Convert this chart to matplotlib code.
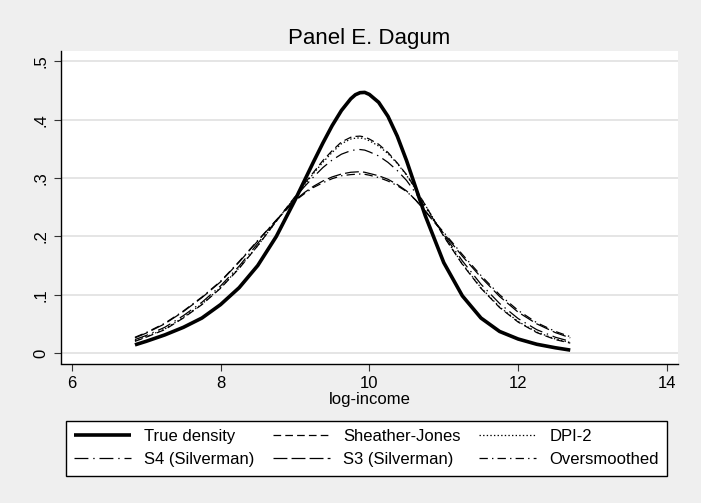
import matplotlib
matplotlib.use("Agg")
import matplotlib.pyplot as plt

plt.rcParams["font.family"] = ["Liberation Sans", "DejaVu Sans"]
plt.rcParams["lines.scale_dashes"] = False

# log-income grid shared by every density curve
log_income = [6.85, 7.0, 7.25, 7.5, 7.75, 8.0, 8.25, 8.5, 8.75, 9.0, 9.125, 9.25,
              9.375, 9.5, 9.625, 9.75, 9.8125, 9.875, 9.9375, 10.0, 10.125, 10.25,
              10.375, 10.5, 10.625, 10.75, 11.0, 11.25, 11.5, 11.75, 12.0, 12.25,
              12.5, 12.7]

true_density = [0.014, 0.020, 0.031, 0.044, 0.060, 0.083, 0.112, 0.150, 0.200,
                0.262, 0.295, 0.328, 0.360, 0.390, 0.416, 0.436, 0.443, 0.4465,
                0.447, 0.4435, 0.430, 0.406, 0.372, 0.330, 0.283, 0.236, 0.155,
                0.098, 0.060, 0.037, 0.024, 0.015, 0.009, 0.005]

sheather_jones = [0.020, 0.027, 0.040, 0.060, 0.083, 0.111, 0.145, 0.184, 0.226,
                  0.268, 0.290, 0.310, 0.330, 0.347, 0.362, 0.370, 0.3715, 0.372,
                  0.3705, 0.367, 0.358, 0.344, 0.326, 0.306, 0.281, 0.254, 0.200,
                  0.152, 0.111, 0.078, 0.053, 0.035, 0.023, 0.017]

dpi_2 = [0.021, 0.028, 0.041, 0.061, 0.084, 0.112, 0.146, 0.184, 0.226,
         0.267, 0.288, 0.308, 0.327, 0.344, 0.359, 0.367, 0.3685, 0.369,
         0.3675, 0.364, 0.355, 0.342, 0.325, 0.305, 0.280, 0.254, 0.201,
         0.153, 0.112, 0.079, 0.054, 0.036, 0.024, 0.018]

s4_silverman = [0.023, 0.030, 0.044, 0.064, 0.087, 0.115, 0.149, 0.188, 0.227,
                0.266, 0.285, 0.302, 0.318, 0.331, 0.341, 0.347, 0.3485, 0.349,
                0.348, 0.345, 0.338, 0.327, 0.313, 0.296, 0.274, 0.250, 0.203,
                0.158, 0.118, 0.085, 0.059, 0.040, 0.027, 0.020]

s3_silverman = [0.026, 0.034, 0.050, 0.071, 0.095, 0.122, 0.156, 0.192, 0.228,
                0.262, 0.275, 0.286, 0.295, 0.302, 0.307, 0.310, 0.3105, 0.311,
                0.310, 0.308, 0.304, 0.298, 0.289, 0.278, 0.262, 0.243, 0.205,
                0.166, 0.130, 0.097, 0.070, 0.050, 0.035, 0.026]

oversmoothed = [0.027, 0.035, 0.051, 0.072, 0.096, 0.123, 0.157, 0.193, 0.228,
                0.261, 0.273, 0.284, 0.292, 0.299, 0.304, 0.306, 0.3065, 0.307,
                0.3065, 0.305, 0.301, 0.295, 0.287, 0.277, 0.262, 0.244, 0.207,
                0.169, 0.133, 0.100, 0.073, 0.052, 0.037, 0.028]

x_ticks = [6, 8, 10, 12, 14]
y_ticks = [0, 0.1, 0.2, 0.3, 0.4, 0.5]
y_tick_labels = ["0", ".1", ".2", ".3", ".4", ".5"]

bg = "#EFEFEF"
fig = plt.figure(figsize=(7.01, 5.03), dpi=100, facecolor=bg)
W, H = 701, 503
left, right, top, bottom = 60.7, 678, 51, 363.5
ax = fig.add_axes([left / W, (H - bottom) / H, (right - left) / W, (bottom - top) / H])
ax.set_facecolor("white")

ax.set_xlim(5.852, 14.148)
ax.set_ylim(-0.018, 0.518)

for yv in y_ticks:
    ax.axhline(yv, color="#E3E3E3", lw=1.3, zorder=0)

thin = 0.9
ax.plot(log_income, true_density, color="black", lw=2.6, solid_capstyle="butt",
        solid_joinstyle="round", label="True density")
ax.plot(log_income, sheather_jones, color="black", lw=thin, dashes=(5.5, 3.0),
        label="Sheather-Jones")
ax.plot(log_income, dpi_2, color="black", lw=thin, dashes=(1.0, 1.6),
        label="DPI-2")
ax.plot(log_income, s4_silverman, color="black", lw=thin, dashes=(10, 3.5, 1, 3.5),
        label="S4 (Silverman)")
ax.plot(log_income, s3_silverman, color="black", lw=thin, dashes=(10, 3),
        label="S3 (Silverman)")
ax.plot(log_income, oversmoothed, color="black", lw=thin, dashes=(6, 3, 1, 3),
        label="Oversmoothed")

for side in ("top", "right"):
    ax.spines[side].set_visible(False)
for side in ("left", "bottom"):
    ax.spines[side].set_linewidth(1.0)
    ax.spines[side].set_color("black")

ax.set_xticks(x_ticks)
ax.set_yticks(y_ticks)
ax.set_yticklabels(y_tick_labels, rotation=90, va="center")
ax.tick_params(axis="both", direction="out", length=5, width=0.8, color="#333333",
               labelsize=12, pad=4)
ax.set_xlabel("log-income", fontsize=12, labelpad=1)
ax.set_title("Panel E. Dagum", fontsize=16, pad=5)

handles, labels = ax.get_legend_handles_labels()
order = [0, 3, 1, 4, 2, 5]
leg = fig.legend([handles[i] for i in order], [labels[i] for i in order],
                 ncol=3, loc="center", mode="expand",
                 bbox_to_anchor=(66 / W, (H - 476) / H, 601 / W, 56 / H),
                 fontsize=12, frameon=True, fancybox=False, edgecolor="black",
                 facecolor="white", framealpha=1, handlelength=3.4,
                 handletextpad=0.8, borderpad=0.5, labelspacing=0.5,
                 borderaxespad=0)
leg.get_frame().set_linewidth(1.0)

fig.savefig("out.png", dpi=100, facecolor=bg)
